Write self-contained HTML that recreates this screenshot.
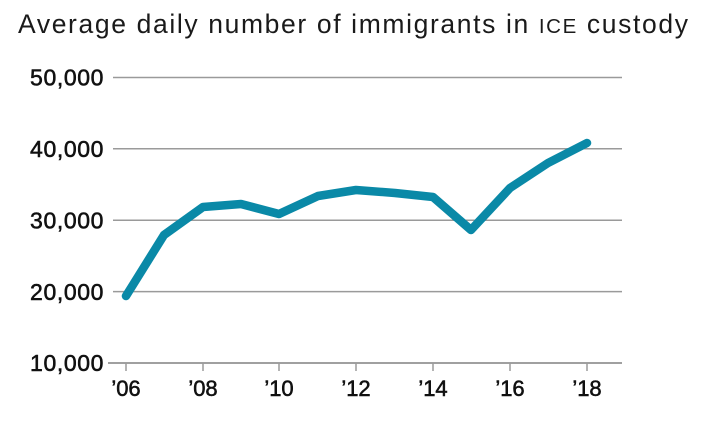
<!DOCTYPE html>
<html>
<head>
<meta charset="utf-8">
<style>
  html, body { margin: 0; padding: 0; background: #ffffff; }
  body { width: 705px; height: 426px; overflow: hidden; }
  svg { display: block; }
  text { font-family: "Liberation Sans", "DejaVu Sans", sans-serif; }
</style>
</head>
<body>
<svg width="705" height="426" viewBox="0 0 705 426" xmlns="http://www.w3.org/2000/svg">
  <rect width="705" height="426" fill="#ffffff"/>

  <!-- Title -->
  <text x="18" y="33" font-size="26.5" fill="#1a1a1a" textLength="670" lengthAdjust="spacing">Average daily number of immigrants in <tspan font-size="20.5">ICE</tspan> custody</text>

  <!-- Gridlines -->
  <g stroke="#9a9a9a" stroke-width="1.5">
    <line x1="113" y1="77.5" x2="622" y2="77.5"/>
    <line x1="113" y1="148.8" x2="622" y2="148.8"/>
    <line x1="113" y1="220.2" x2="622" y2="220.2"/>
    <line x1="113" y1="291.6" x2="622" y2="291.6"/>
  </g>
  <!-- Baseline -->
  <line x1="108" y1="363" x2="622" y2="363" stroke="#808080" stroke-width="1.6"/>
  <!-- Ticks -->
  <g stroke="#9a9a9a" stroke-width="1.5">
    <line x1="126" y1="363" x2="126" y2="371"/>
    <line x1="203" y1="363" x2="203" y2="371"/>
    <line x1="279" y1="363" x2="279" y2="371"/>
    <line x1="356" y1="363" x2="356" y2="371"/>
    <line x1="433" y1="363" x2="433" y2="371"/>
    <line x1="510" y1="363" x2="510" y2="371"/>
    <line x1="587" y1="363" x2="587" y2="371"/>
  </g>

  <!-- Y labels -->
  <g font-size="23" fill="#111" stroke="#111" stroke-width="0.55" text-anchor="end" letter-spacing="0.6">
    <text x="104" y="85.5">50,000</text>
    <text x="104" y="157">40,000</text>
    <text x="104" y="228.5">30,000</text>
    <text x="104" y="300">20,000</text>
    <text x="104" y="371">10,000</text>
  </g>

  <!-- X labels -->
  <g font-size="22" fill="#111" stroke="#111" stroke-width="0.55" text-anchor="middle">
    <text x="126" y="396">’06</text>
    <text x="203" y="396">’08</text>
    <text x="279" y="396">’10</text>
    <text x="356" y="396">’12</text>
    <text x="433" y="396">’14</text>
    <text x="510" y="396">’16</text>
    <text x="587" y="396">’18</text>
  </g>

  <!-- Data line -->
  <polyline fill="none" stroke="#0a89a7" stroke-width="8.5" stroke-linecap="round" stroke-linejoin="round"
    points="126,296 164,235 203,207 241,204 279,214 318,196 356,190 395,193 433,197 471,230 510,188 548,163 587,143"/>
</svg>
</body>
</html>
